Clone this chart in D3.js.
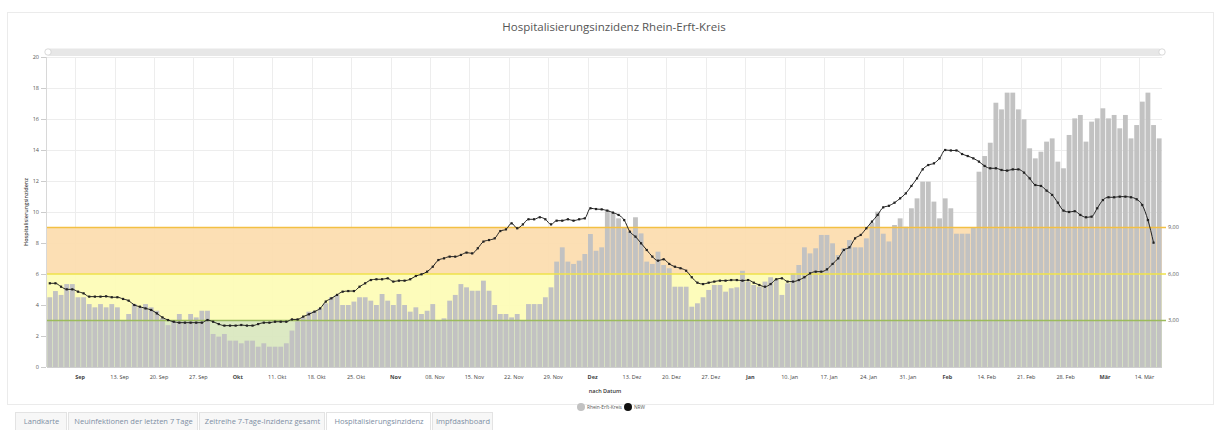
<!DOCTYPE html>
<html>
<head>
<meta charset="utf-8">
<script src="https://cdn.jsdelivr.net/npm/d3@7"></script>
<style>
  body { margin: 0; background: #fff; font-family: "Open Sans", "Liberation Sans", sans-serif; }
  svg text { font-family: "Open Sans", "Liberation Sans", sans-serif; }
</style>
</head>
<body>
<svg id="chart" width="1216" height="430"></svg>
<script>
// first day of the series, one value per day after that
const startDay = "2021-09-01";

// Rhein-Erft-Kreis, daily bars
const regionValues = [
  4.5, 4.9, 4.65, 5.35, 5.35, 4.5, 4.5, 4.06, 3.85, 4.06,
  3.85, 4.06, 3.85, 3.0, 3.42, 4.06, 3.85, 4.06, 3.85, 3.63,
  3.14, 2.7, 3.0, 3.42, 2.95, 3.42, 3.2, 3.63, 3.63, 2.13,
  1.96, 2.13, 1.7, 1.7, 1.53, 1.7, 1.7, 1.31, 1.53, 1.31,
  1.31, 1.31, 1.53, 2.35, 2.95, 3.2, 3.57, 3.6, 3.79, 4.11,
  4.5, 4.65, 4.0, 4.0, 4.22, 4.5, 4.5, 4.28, 4.0, 4.71,
  4.28, 4.0, 4.71, 4.0, 3.57, 3.85, 3.42, 3.63, 4.06, 3.0,
  3.14, 4.28, 4.65, 5.35, 5.14, 4.92, 4.92, 5.57, 4.92, 4.0,
  3.42, 3.42, 3.2, 3.42, 3.0, 4.06, 4.06, 4.06, 4.5, 5.14,
  6.8, 7.72, 6.8, 6.65, 6.86, 7.29, 8.58, 7.5, 7.72, 10.09,
  9.96, 9.59, 9.01, 8.73, 9.66, 8.62, 6.8, 6.65, 7.44, 6.58,
  6.37, 5.18, 5.18, 5.18, 3.89, 4.11, 4.5, 4.97, 5.29, 5.29,
  4.86, 5.08, 5.14, 6.21, 5.51, 5.29, 5.18, 5.51, 5.79, 5.66,
  4.65, 5.4, 6.04, 6.58, 7.72, 7.33, 7.66, 8.52, 8.52, 7.98,
  7.22, 7.66, 8.19, 7.72, 7.72, 8.3, 9.31, 10.02, 8.6, 8.1,
  9.16, 9.59, 9.05, 10.24, 10.88, 11.96, 11.96, 10.67, 9.59, 10.88,
  10.24, 8.6, 8.6, 8.6, 9.0, 12.6, 13.61, 14.47, 17.05, 16.62,
  17.7, 17.7, 16.62, 15.98, 14.11, 13.46, 13.89, 14.54, 14.75, 13.25,
  12.82, 14.97, 16.04, 16.26, 14.54, 15.83, 16.04, 16.69, 16.04, 16.26,
  15.4, 16.26, 14.75, 15.61, 17.12, 17.7, 15.61, 14.75
];

// NRW, daily line (no value yet for the last day)
const nrwValues = [
  5.4, 5.4, 5.18, 5.01, 5.01, 4.86, 4.75, 4.54, 4.54, 4.54,
  4.56, 4.5, 4.5, 4.39, 4.28, 4.0, 3.89, 3.78, 3.68, 3.46,
  3.2, 3.03, 2.92, 2.86, 2.86, 2.86, 2.86, 2.86, 3.03, 2.92,
  2.77, 2.67, 2.67, 2.67, 2.71, 2.67, 2.67, 2.77, 2.86, 2.86,
  2.92, 2.92, 2.92, 3.07, 3.07, 3.25, 3.4, 3.57, 3.78, 4.22,
  4.43, 4.65, 4.86, 4.9, 4.9, 5.18, 5.4, 5.61, 5.66, 5.66,
  5.72, 5.51, 5.57, 5.57, 5.66, 5.87, 5.98, 6.15, 6.47, 6.9,
  7.01, 7.12, 7.12, 7.23, 7.38, 7.33, 7.66, 8.09, 8.19, 8.3,
  8.77, 8.88, 9.27, 8.95, 9.2, 9.53, 9.53, 9.66, 9.53, 9.2,
  9.44, 9.44, 9.53, 9.44, 9.53, 9.59, 10.24, 10.19, 10.17, 10.09,
  9.96, 9.81, 9.48, 8.73, 8.41, 7.98, 7.55, 7.12, 6.86, 6.95,
  6.65, 6.47, 6.37, 6.21, 5.79, 5.44, 5.35, 5.44, 5.51, 5.57,
  5.57, 5.61, 5.61, 5.57, 5.61, 5.44, 5.29, 5.18, 5.35, 5.66,
  5.72, 5.51, 5.51, 5.61, 5.79, 6.04, 6.15, 6.15, 6.3, 6.65,
  7.01, 7.55, 7.72, 8.3, 8.52, 8.95, 9.38, 9.81, 10.3, 10.4,
  10.6, 10.88, 11.2, 11.68, 12.17, 12.75, 13.03, 13.14, 13.46, 14.0,
  13.97, 13.97, 13.74, 13.61, 13.46, 13.25, 12.97, 12.82, 12.82, 12.71,
  12.67, 12.75, 12.75, 12.54, 12.17, 11.74, 11.68, 11.38, 11.1, 10.6,
  10.09, 10.0, 10.05, 9.81, 9.66, 9.7, 10.24, 10.77, 10.95, 10.95,
  10.99, 10.99, 10.95, 10.82, 10.45, 9.48, 8.02, null
];

// weekly x ticks
const tickDates = [
  "2021-09-06", "2021-09-13", "2021-09-20", "2021-09-27", "2021-10-04", "2021-10-11", "2021-10-18",
  "2021-10-25", "2021-11-01", "2021-11-08", "2021-11-15", "2021-11-22", "2021-11-29", "2021-12-06",
  "2021-12-13", "2021-12-20", "2021-12-27", "2022-01-03", "2022-01-10", "2022-01-17", "2022-01-24",
  "2022-01-31", "2022-02-07", "2022-02-14", "2022-02-21", "2022-02-28", "2022-03-07", "2022-03-14"
];
const tickLabels = [
  "Sep", "13. Sep", "20. Sep", "27. Sep", "Okt", "11. Okt", "18. Okt",
  "25. Okt", "Nov", "08. Nov", "15. Nov", "22. Nov", "29. Nov", "Dez",
  "13. Dez", "20. Dez", "27. Dez", "Jan", "10. Jan", "17. Jan", "24. Jan",
  "31. Jan", "Feb", "14. Feb", "21. Feb", "28. Feb", "Mär", "14. Mär"
];
const monthLabels = ["Sep", "Okt", "Nov", "Dez", "Jan", "Feb", "Mär"];

const yTicks = [0, 2, 4, 6, 8, 10, 12, 14, 16, 18, 20];

// threshold bands (lower, upper) and their labels on the right
const bandLower = [0, 3, 6];
const bandUpper = [3, 6, 9];
const bandFill = ["#d8e7bd", "#fdfcb4", "#fcdcac"];
const bandLine = ["#9cbb5c", "#efe24a", "#f3c043"];
const bandLabels = ["3,00", "6,00", "9,00"];

const tabNames = ["Landkarte", "Neuinfektionen der letzten 7 Tage", "Zeitreihe 7-Tage-Inzidenz gesamt", "Hospitalisierungsinzidenz", "Impfdashboard"];
const tabX = [15, 68, 199, 326, 432, 494];

const parse = d3.utcParse("%Y-%m-%d");
const day0 = parse(startDay);
const days = regionValues.map((v, i) => d3.utcDay.offset(day0, i));

const svg = d3.select("#chart");
const plotL = 47, plotR = 1162, plotT = 57, plotB = 367;

const x = d3.scaleUtc()
    .domain([day0, d3.utcDay.offset(day0, regionValues.length)])
    .range([plotL, plotR]);
const y = d3.scaleLinear().domain([0, 20]).range([plotB, plotT]);

// card + title
svg.append("rect").attr("x", 7.5).attr("y", 12.5).attr("width", 1206).attr("height", 392)
    .attr("fill", "#fff").attr("stroke", "#ebebeb");
svg.append("text").attr("x", 614).attr("y", 31).attr("text-anchor", "middle")
    .attr("font-size", 11.5).attr("fill", "#555")
    .text("Hospitalisierungsinzidenz Rhein-Erft-Kreis");

// scrollbar
svg.append("rect").attr("x", plotL).attr("y", 48.5).attr("width", plotR - plotL).attr("height", 7.5)
    .attr("rx", 3.5).attr("fill", "#e7e7e7");
[plotL + 1, plotR].forEach(cx => {
    svg.append("circle").attr("cx", cx).attr("cy", 52).attr("r", 3.2)
        .attr("fill", "#fff").attr("stroke", "#cfcfcf").attr("stroke-width", 0.8);
});

// grid
const grid = svg.append("g");
grid.selectAll(".h").data(yTicks).enter().append("line")
    .attr("x1", plotL).attr("x2", plotR)
    .attr("y1", d => y(d) + 0.5).attr("y2", d => y(d) + 0.5)
    .attr("stroke", "#ededed");
grid.selectAll(".v").data(tickDates).enter().append("line")
    .attr("x1", d => Math.round(x(parse(d))) + 0.5).attr("x2", d => Math.round(x(parse(d))) + 0.5)
    .attr("y1", plotT).attr("y2", plotB)
    .attr("stroke", "#ededed");

// bands behind the bars
svg.append("g").selectAll("rect").data(bandLower).enter().append("rect")
    .attr("x", plotL).attr("width", plotR - plotL)
    .attr("y", (d, i) => y(bandUpper[i]))
    .attr("height", (d, i) => y(d) - y(bandUpper[i]))
    .attr("fill", (d, i) => bandFill[i]).attr("opacity", 0.9);

// bars
const bw = x(days[1]) - x(days[0]);
svg.append("g").selectAll("rect").data(regionValues).enter().append("rect")
    .attr("x", (d, i) => x(days[i]) + 0.4)
    .attr("width", bw - 0.8)
    .attr("y", d => y(d))
    .attr("height", d => plotB - y(d))
    .attr("fill", "#c2c2c2");

// threshold lines on top, with labels on the right
const thr = svg.append("g");
bandUpper.forEach((t, i) => {
    thr.append("line").attr("x1", plotL).attr("x2", plotR + 4)
        .attr("y1", y(t)).attr("y2", y(t))
        .attr("stroke", bandLine[i]).attr("stroke-width", 1.6);
    thr.append("text").attr("x", plotR + 6).attr("y", y(t)).attr("dy", "0.35em")
        .attr("font-size", 5.5).attr("fill", "#555").text(bandLabels[i]);
});

// NRW line
const pts = nrwValues.map((v, i) => ({ d: days[i], v })).filter(p => p.v !== null);
const line = d3.line()
    .x(p => x(p.d) + bw / 2)
    .y(p => y(p.v))
    .curve(d3.curveMonotoneX);
svg.append("path").datum(pts)
    .attr("fill", "none").attr("stroke", "#222").attr("stroke-width", 1)
    .attr("d", line);
svg.append("g").selectAll("rect").data(pts).enter().append("rect")
    .attr("x", p => x(p.d) + bw / 2 - 1.1).attr("y", p => y(p.v) - 1.1)
    .attr("width", 2.2).attr("height", 2.2).attr("fill", "#222");

// y axis
const ya = svg.append("g");
ya.append("line").attr("x1", plotL - 0.5).attr("x2", plotL - 0.5).attr("y1", plotT).attr("y2", plotB)
    .attr("stroke", "#d8d8d8");
ya.selectAll("text").data(yTicks).enter().append("text")
    .attr("x", 39).attr("y", d => y(d)).attr("dy", "0.35em").attr("text-anchor", "end")
    .attr("font-size", 5.5).attr("fill", "#555").text(d => d);
ya.selectAll(".t").data(yTicks).enter().append("line")
    .attr("x1", 41).attr("x2", 46).attr("y1", d => y(d) + 0.5).attr("y2", d => y(d) + 0.5)
    .attr("stroke", "#ccc");
svg.append("text")
    .attr("transform", `translate(28,${(plotT + plotB) / 2}) rotate(-90)`)
    .attr("text-anchor", "middle").attr("font-size", 5.5).attr("fill", "#444").attr("font-weight", 600)
    .text("Hospitalisierungsinzidenz");

// x axis
svg.append("line").attr("x1", plotL).attr("x2", plotR).attr("y1", plotB + 0.5).attr("y2", plotB + 0.5)
    .attr("stroke", "#cfcfcf");
svg.append("g").selectAll("text").data(tickDates).enter().append("text")
    .attr("x", d => x(parse(d)) + 5).attr("y", 379).attr("text-anchor", "middle")
    .attr("font-size", 5.5).attr("fill", "#444")
    .attr("font-weight", (d, i) => monthLabels.includes(tickLabels[i]) ? 700 : 400)
    .text((d, i) => tickLabels[i]);
svg.append("text").attr("x", 605).attr("y", 393).attr("text-anchor", "middle")
    .attr("font-size", 5.5).attr("fill", "#333").attr("font-weight", 600).text("nach Datum");

// legend
const lg = svg.append("g");
lg.append("circle").attr("cx", 581).attr("cy", 407).attr("r", 4).attr("fill", "#c2c2c2");
lg.append("text").attr("x", 587).attr("y", 407).attr("dy", "0.35em").attr("font-size", 4.8)
    .attr("fill", "#555").text("Rhein-Erft-Kreis");
lg.append("circle").attr("cx", 628).attr("cy", 407).attr("r", 4).attr("fill", "#111");
lg.append("text").attr("x", 634).attr("y", 407).attr("dy", "0.35em").attr("font-size", 4.8)
    .attr("fill", "#555").text("NRW");

// tabs under the card
const tabs = svg.append("g");
tabNames.forEach((name, i) => {
    tabs.append("rect").attr("x", tabX[i] + 0.5).attr("y", 412.5)
        .attr("width", tabX[i + 1] - tabX[i] - 2).attr("height", 20)
        .attr("fill", i === 3 ? "#fff" : "#f7f7f7").attr("stroke", "#e3e3e3");
    tabs.append("text").attr("x", (tabX[i] + tabX[i + 1]) / 2).attr("y", 424)
        .attr("text-anchor", "middle").attr("font-size", 7.5).attr("fill", "#7d8ea3")
        .text(name);
});
</script>
</body>
</html>
